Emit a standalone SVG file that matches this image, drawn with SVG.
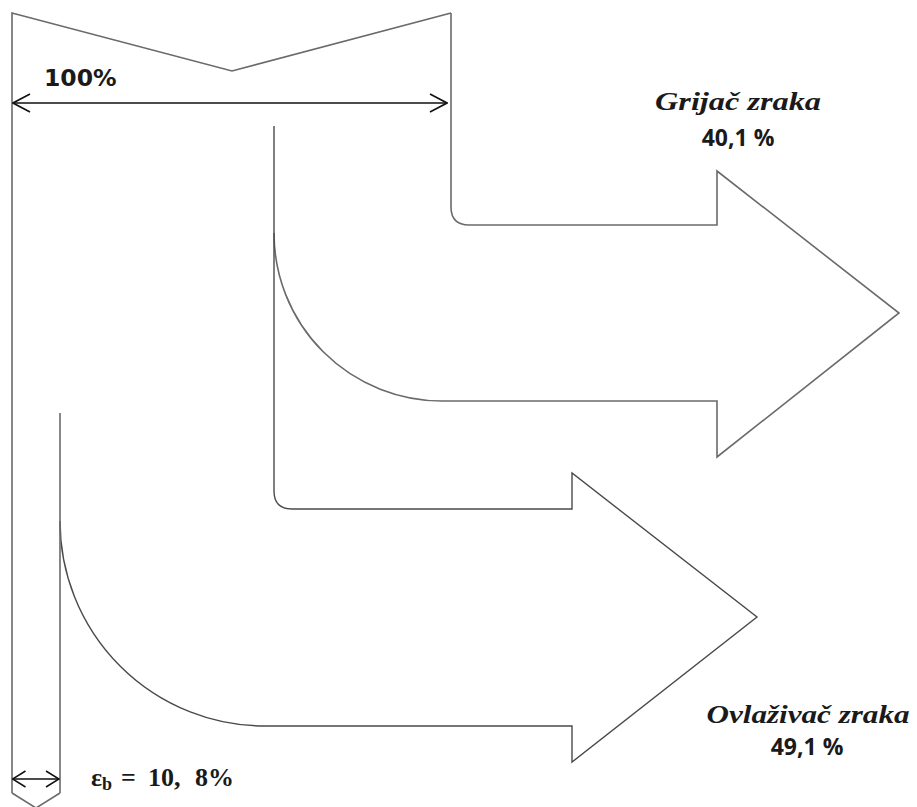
<svg xmlns="http://www.w3.org/2000/svg" width="917" height="807" viewBox="0 0 917 807">
<defs>
<marker id="ah" viewBox="0 0 20 20" refX="19" refY="10" markerWidth="20" markerHeight="20" markerUnits="userSpaceOnUse" orient="auto-start-reverse">
<path d="M2,1 L19,10 L2,19" fill="none" stroke="#111" stroke-width="1.6"/>
</marker>
<marker id="ahs" viewBox="0 0 16 18" refX="15" refY="9" markerWidth="16" markerHeight="18" markerUnits="userSpaceOnUse" orient="auto-start-reverse">
<path d="M2,1 L15,9 L2,17" fill="none" stroke="#111" stroke-width="1.5"/>
</marker>
</defs>
<style>
.band{fill:none;stroke:#6a6a6a;stroke-width:1.6;stroke-linejoin:miter}
.inner{fill:none;stroke:#4a4a4a;stroke-width:1.4}
.dim{fill:none;stroke:#111;stroke-width:1.6}
.lblS{font-family:"DejaVu Sans",Verdana,sans-serif;font-weight:bold;fill:#1a1a1a}
.lblM{font-family:"Liberation Serif","Times New Roman",serif;font-weight:bold;fill:#1a1a1a}
.lblC{font-family:"Open Sans","Liberation Sans",Arial,sans-serif;font-weight:bold;fill:#1a1a1a}
</style>
<rect width="917" height="807" fill="#fff"/>

<g id="flow-input">
<path class="band" d="M12,793 V13 L232,71 L451,13"/>
<path class="band" d="M12,793 L36,808 L60,793"/>
</g>

<g id="flow-grijac">
<path class="band" d="M451,13 V207 Q451,225 469,225 H717 V171 L899,313 L717,457 V401 H442 A168,168 0 0 1 274,233"/>
</g>

<g id="flow-ovlazivac">
<path class="inner" d="M274,126 V491 Q274,509 292,509 H572 V473 L757,617 L572,762 V726 H265 A205,205 0 0 1 60,521"/>
</g>

<g id="flow-loss">
<path class="band" d="M60,413 V793"/>
</g>

<g id="connectors">
<line class="dim" x1="13" y1="103" x2="447" y2="103" marker-start="url(#ah)" marker-end="url(#ah)"/>
<line class="dim" x1="12.5" y1="779" x2="59" y2="779" marker-start="url(#ahs)" marker-end="url(#ahs)"/>
</g>

<g id="labels">
<text class="lblS" x="44" y="86" font-size="23.5">100%</text>
<text class="lblM" x="738" y="110" font-size="25" font-style="italic" text-anchor="middle" textLength="166" lengthAdjust="spacingAndGlyphs">Grijač zraka</text>
<text class="lblC" x="738" y="146" font-size="23" text-anchor="middle">40,1 %</text>
<text class="lblM" x="808" y="723" font-size="25" font-style="italic" text-anchor="middle" textLength="203" lengthAdjust="spacingAndGlyphs">Ovlaživač zraka</text>
<text class="lblC" x="807" y="755" font-size="23" text-anchor="middle">49,1 %</text>
<text class="lblM" x="91" y="786" font-size="26">ε<tspan font-size="18" x="102" y="790">b</tspan><tspan x="121" y="786">=</tspan><tspan x="148" y="786">10,</tspan><tspan x="195" y="786">8%</tspan></text>
</g>
</svg>
